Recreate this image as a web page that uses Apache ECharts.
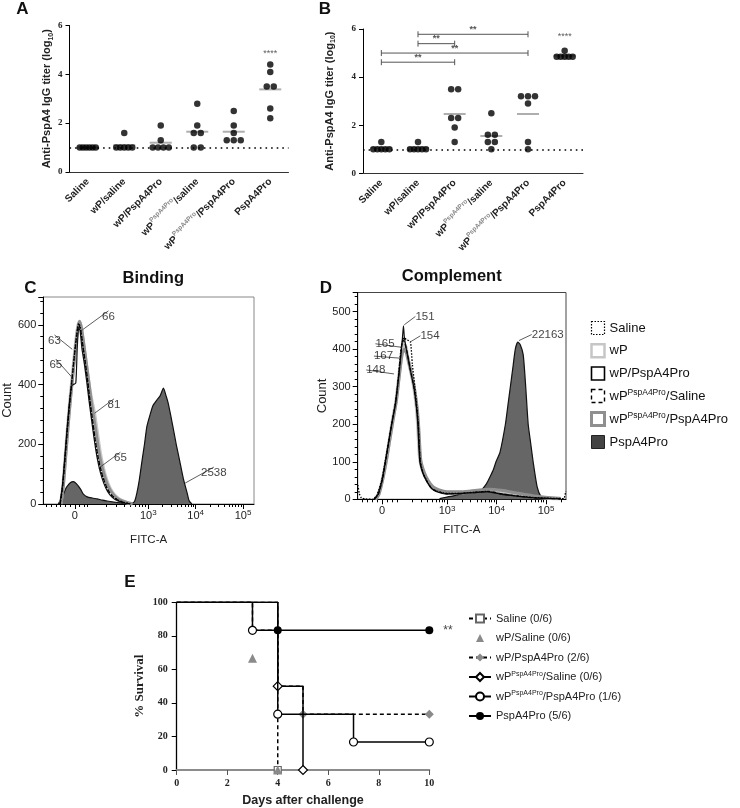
<!DOCTYPE html>
<html>
<head>
<meta charset="utf-8">
<script src="https://cdn.jsdelivr.net/npm/echarts@6.0.0/dist/echarts.min.js"></script>
<style>
  html, body { margin: 0; padding: 0; background: #fff; }
  #main { width: 740px; height: 808px; }
</style>
</head>
<body>
<div id="main"></div>
<script>
// ---- A / B: anti-PspA4 IgG titers (log10), one value per mouse
var groups = ['Saline', 'wP/saline', 'wP/PspA4Pro', 'wP^PspA4Pro/saline', 'wP^PspA4Pro/PspA4Pro', 'PspA4Pro'];
var titersA = [
    [1, 1, 1, 1, 1, 1],
    [1.6, 1, 1, 1, 1, 1],
    [1.9, 1.3, 1, 1, 1, 1],
    [2.8, 1.9, 1.6, 1.6, 1, 1],
    [2.5, 1.9, 1.6, 1.3, 1.3, 1.3],
    [4.4, 4.1, 3.5, 3.5, 2.6, 2.2]
];
var titersB = [
    [1.3, 1, 1, 1, 1, 1],
    [1.3, 1, 1, 1, 1, 1],
    [3.5, 3.5, 2.3, 2.3, 1.9, 1.3],
    [2.5, 1.6, 1.6, 1.3, 1.3, 1],
    [3.2, 3.2, 3.2, 2.9, 1.3, 1],
    [5.1, 4.85, 4.85, 4.85, 4.85, 4.85]
];
var detectionLimit = 1;
var starsA = [[5, 4.87, '****']];
var starsB = [[5, 5.68, '****']];
// from group, to group, bracket height, label
var bracketsB = [[1, 4, 5.78, '**'], [1, 2, 5.39, '**'], [0, 4, 5.0, '**'], [0, 2, 4.62, '**']];

// ---- C / D: FITC-A histograms as [position on biexponential axis (decades), count]
var flowGroups = ['Saline', 'wP', 'wP/PspA4Pro', 'wP^PspA4Pro/Saline', 'wP^PspA4Pro/PspA4Pro', 'PspA4Pro'];
var bindSaline = [[1.14,0],[1.19,60],[1.24,150],[1.29,250],[1.34,340],[1.39,420],[1.44,500],[1.49,570],[1.53,605],[1.56,595],[1.61,540],[1.66,480],[1.71,420],[1.76,350],[1.81,290],[1.87,220],[1.93,160],[2.0,110],[2.07,75],[2.15,45],[2.25,25],[2.38,12],[2.5,5],[2.62,0]];
var bindWP = [[1.15,0],[1.2,60],[1.25,160],[1.3,260],[1.35,350],[1.4,430],[1.45,510],[1.5,580],[1.54,610],[1.58,590],[1.63,535],[1.68,478],[1.73,420],[1.79,360],[1.86,305],[1.92,240],[1.98,175],[2.05,120],[2.12,80],[2.2,50],[2.3,28],[2.42,13],[2.54,5],[2.66,0]];
var bindWPPro = [[1.13,0],[1.18,50],[1.23,140],[1.28,240],[1.33,330],[1.38,395],[1.42,400],[1.47,405],[1.5,520],[1.53,590],[1.56,580],[1.6,520],[1.65,470],[1.7,410],[1.75,345],[1.8,285],[1.86,215],[1.92,155],[1.99,105],[2.06,70],[2.14,42],[2.24,22],[2.36,10],[2.48,4],[2.6,0]];
var bindWPsSaline = [[1.14,0],[1.19,55],[1.24,145],[1.29,245],[1.34,335],[1.39,415],[1.44,495],[1.49,565],[1.53,600],[1.57,585],[1.62,530],[1.67,475],[1.72,415],[1.77,345],[1.82,285],[1.88,215],[1.94,158],[2.01,108],[2.08,73],[2.16,44],[2.26,24],[2.38,11],[2.5,4],[2.62,0]];
var bindWPsPro = [[1.16,0],[1.21,65],[1.26,165],[1.31,265],[1.36,355],[1.41,435],[1.46,515],[1.51,585],[1.55,612],[1.59,590],[1.64,535],[1.69,475],[1.74,415],[1.8,340],[1.86,280],[1.92,215],[1.98,155],[2.05,108],[2.12,72],[2.2,45],[2.3,25],[2.42,12],[2.55,5],[2.67,0]];
var bindPro = [[1.1,0],[1.19,25],[1.27,55],[1.36,72],[1.42,75],[1.48,68],[1.57,50],[1.63,33],[1.71,24],[1.82,20],[1.92,17],[2.03,13],[2.13,10],[2.24,7],[2.34,5],[2.45,3],[2.58,2],[2.66,3],[2.71,8],[2.76,37],[2.81,80],[2.87,147],[2.92,200],[2.97,259],[3.04,300],[3.1,330],[3.18,348],[3.25,362],[3.32,388],[3.38,360],[3.42,338],[3.47,300],[3.52,259],[3.59,200],[3.66,147],[3.74,85],[3.82,37],[3.86,12],[3.92,0]];

var compSaline = [[1.2,38],[1.23,15],[1.27,4],[1.35,1],[1.5,0],[1.58,10],[1.68,50],[1.75,100],[1.88,200],[1.95,250],[2.0,300],[2.04,360],[2.08,410],[2.13,430],[2.19,425],[2.26,420],[2.3,360],[2.35,300],[2.39,250],[2.42,200],[2.46,100],[2.52,70],[2.59,50],[2.68,30],[2.79,22],[3.0,16],[3.26,16],[3.57,19],[3.81,21],[4.07,15],[4.37,10],[4.74,5],[5.08,3],[5.3,2],[5.36,2],[5.4,22]];
var compWP = [[1.55,0],[1.62,15],[1.7,55],[1.78,110],[1.9,210],[1.97,260],[2.01,305],[2.05,350],[2.09,395],[2.13,415],[2.17,405],[2.2,380],[2.27,340],[2.33,300],[2.38,250],[2.41,200],[2.45,110],[2.52,72],[2.6,50],[2.7,32],[2.82,24],[3.0,18],[3.3,18],[3.6,22],[3.85,24],[4.1,20],[4.4,13],[4.75,7],[5.1,3],[5.3,2]];
var compWPPro = [[1.52,0],[1.6,12],[1.69,52],[1.76,105],[1.89,205],[1.96,255],[2.0,300],[2.04,345],[2.08,400],[2.1,430],[2.12,462],[2.14,430],[2.18,400],[2.25,350],[2.33,300],[2.38,250],[2.41,200],[2.45,100],[2.51,70],[2.59,48],[2.68,30],[2.79,20],[3.0,14],[3.26,15],[3.57,18],[3.81,20],[4.07,14],[4.37,9],[4.74,4],[5.1,2],[5.3,1]];
var compWPsSaline = [[1.53,0],[1.61,12],[1.7,55],[1.77,108],[1.89,205],[1.96,255],[2.0,300],[2.04,350],[2.08,405],[2.11,425],[2.15,415],[2.19,395],[2.26,345],[2.33,300],[2.38,250],[2.42,200],[2.46,100],[2.52,68],[2.6,46],[2.69,29],[2.8,21],[3.0,15],[3.3,16],[3.6,19],[3.85,21],[4.1,15],[4.4,9],[4.75,4],[5.1,2],[5.3,1]];
var compWPsPro = [[1.56,0],[1.63,15],[1.71,58],[1.79,115],[1.91,210],[1.98,265],[2.02,310],[2.06,355],[2.1,390],[2.14,400],[2.18,390],[2.22,370],[2.29,330],[2.35,290],[2.4,240],[2.43,190],[2.47,105],[2.54,72],[2.62,50],[2.72,33],[2.84,25],[3.0,20],[3.3,20],[3.6,24],[3.85,27],[4.1,24],[4.4,17],[4.75,9],[5.1,4],[5.3,2]];
var compPro = [[2.85,2],[3.0,6],[3.15,10],[3.3,15],[3.42,20],[3.55,18],[3.67,22],[3.8,42],[3.87,60],[3.94,80],[3.99,100],[4.07,125],[4.18,200],[4.23,250],[4.28,300],[4.33,350],[4.38,400],[4.43,419],[4.48,412],[4.54,385],[4.59,300],[4.64,200],[4.69,150],[4.74,100],[4.82,34],[4.9,7],[5.0,0]];

// median fluorescence notes: [position, count, text, label dx, label dy]
var bindNotes = [[1.61, 583, '66', 26, -13], [1.394, 518, '63', -17.7, -8.3], [1.379, 426, '65', -15.7, -11.7], [1.869, 304, '81', 19.2, -8.3], [1.954, 120, '65', 21.7, -10], [3.779, 70, '2538', 28.7, -10]];
var compNotes = [[2.137, 465, '151', 20.7, -8.3], [2.267, 420, '154', 19.3, -5.9], [2.085, 405, '165', -16.7, -3.5], [2.051, 376, '167', -16.5, -2.1], [1.929, 334, '148', -18.2, -4], [4.455, 423, '22163', 28.7, -6]];
var bindTickPos = [1.45, 3, 4, 5];
var compTickPos = [1.69, 3, 4, 5];
var fitcTickLabels = ['0', '10{sup|3}', '10{sup|4}', '10{sup|5}'];

// ---- E: survival after challenge
var survGroups = ['Saline (0/6)', 'wP/Saline (0/6)', 'wP/PspA4Pro (2/6)', 'wP^PspA4Pro/Saline (0/6)', 'wP^PspA4Pro/PspA4Pro (1/6)', 'PspA4Pro (5/6)'];
var survSaline = [[0, 100], [4, 0]];
var survWPSaline = [[0, 100], [3, 66.7], [4, 0]];
var survWPPro = [[0, 100], [3, 83.3], [4, 50], [5, 33.3], [10, 33.3]];
var survWPsSaline = [[0, 100], [4, 50], [5, 0]];
var survWPsPro = [[0, 100], [3, 83.3], [4, 33.3], [7, 16.7], [10, 16.7]];
var survPro = [[0, 100], [4, 83.3], [10, 83.3]];
var survSig = ['', '', '', '', '', '**'];

var SANS = 'Liberation Sans', SERIF = 'Liberation Serif';
var chart = echarts.init(document.getElementById('main'));

function sup(s) { return s.replace(/\^([^\/]+)/, '{sup|$1}'); }

// spread equal values side by side, like a dot plot
function swarm(vals) {
    var out = [];
    vals.forEach(function (row, g) {
        var count = {}, seen = {};
        row.forEach(function (v) { count[v] = (count[v] || 0) + 1; });
        row.forEach(function (v) {
            var n = count[v];
            var k = seen[v] = seen[v] === undefined ? 0 : seen[v] + 1;
            var step = n <= 3 ? 7 : 16 / (n - 1);
            out.push({ value: [g, v], symbolOffset: [(k - (n - 1) / 2) * step, 0] });
        });
    });
    return out;
}
function means(vals) {
    return vals.map(function (row, g) {
        return [g, row.reduce(function (a, b) { return a + b; }, 0) / row.length];
    });
}

function dotX(grid) {
    return {
        type: 'category', gridIndex: grid, data: groups,
        axisLine: { lineStyle: { color: '#333' } },
        axisTick: { alignWithLabel: true, length: 4, lineStyle: { color: '#333' } },
        axisLabel: {
            interval: 0, rotate: 45, margin: 8, fontFamily: SANS, fontWeight: 'bold', fontSize: 10, color: '#222', lineHeight: 15,
            formatter: sup,
            rich: { sup: { fontFamily: SANS, fontSize: 6.5, color: '#888', verticalAlign: 'top', lineHeight: 7 } }
        }
    };
}
function dotY(grid, gap) {
    return {
        type: 'value', gridIndex: grid, min: 0, max: 6, interval: 2,
        name: 'Anti-PspA4 IgG titer (log{sub|10})', nameLocation: 'middle', nameRotate: 90, nameGap: gap,
        nameTextStyle: {
            fontFamily: SANS, fontWeight: 'bold', fontSize: 11, color: '#222', lineHeight: 14,
            rich: { sub: { fontFamily: SANS, fontWeight: 'bold', fontSize: 7, verticalAlign: 'bottom', lineHeight: 8, color: '#222' } }
        },
        axisLine: { show: true, lineStyle: { color: '#000' } },
        axisTick: { show: true, length: 4, lineStyle: { color: '#000' } },
        axisLabel: { fontFamily: SERIF, fontWeight: 'bold', fontSize: 9, color: '#222', margin: 7 },
        splitLine: { show: false }
    };
}
function dotPanel(idx, vals, stars) {
    return [
        {
            type: 'scatter', xAxisIndex: idx, yAxisIndex: idx, data: means(vals), symbol: 'rect', symbolSize: [22, 2],
            itemStyle: { color: '#9a9a9a' }, z: 2, silent: true
        },
        {
            type: 'scatter', xAxisIndex: idx, yAxisIndex: idx, data: swarm(vals), symbolSize: 6.5,
            itemStyle: { color: '#000' }, z: 3, silent: true,
            markLine: {
                silent: true, symbol: 'none', label: { show: false },
                lineStyle: { color: '#000', type: [1.6, 4], width: 1.6 },
                data: [{ yAxis: detectionLimit }]
            }
        },
        {
            type: 'scatter', xAxisIndex: idx, yAxisIndex: idx, symbolSize: 0, silent: true,
            data: stars.map(function (s) { return { value: [s[0], s[1]], name: s[2] }; }),
            label: { show: true, position: 'inside', formatter: '{b}', fontFamily: SANS, fontSize: 9, color: '#333' }
        }
    ];
}

function fitcX(grid, min, max, ticks, gap) {
    return {
        type: 'value', gridIndex: grid, min: min, max: max, position: 'bottom',
        name: 'FITC-A', nameLocation: 'middle', nameGap: gap,
        nameTextStyle: { fontFamily: SANS, fontSize: 11.5, color: '#222' },
        axisLine: { show: true, onZero: false, lineStyle: { color: '#000' } },
        axisTick: { show: true, customValues: ticks, length: 5, lineStyle: { color: '#000' } },
        axisLabel: {
            customValues: ticks, margin: 5, fontFamily: SANS, fontSize: 11, color: '#222', lineHeight: 14,
            formatter: function (v) { return fitcTickLabels[ticks.indexOf(v)]; },
            rich: { sup: { fontFamily: SANS, fontSize: 8, color: '#222', verticalAlign: 'top', lineHeight: 8 } }
        },
        splitLine: { show: false }
    };
}
function fitcMinor(grid, min, max, zero, hundred) {
    var t = [];
    for (var k = 1; k <= 6; k++) t.push(zero - k * 0.1);
    t.push(zero + 0.1, zero + 0.2, hundred);
    for (var m = 2; m <= 9; m++) {
        t.push(hundred + (3 - hundred) * Math.log10(m), 3 + Math.log10(m), 4 + Math.log10(m), 5 + Math.log10(m));
    }
    t = t.filter(function (v) { return v > min && v < max; });
    return {
        type: 'value', gridIndex: grid, min: min, max: max, position: 'bottom', offset: 0,
        axisLine: { show: false }, axisLabel: { show: false }, splitLine: { show: false },
        axisTick: { show: true, customValues: t, length: 3, lineStyle: { color: '#000' } }
    };
}
function countY(grid, max, step, gap) {
    return {
        type: 'value', gridIndex: grid, min: 0, max: max, interval: step,
        name: 'Count', nameLocation: 'middle', nameRotate: 90, nameGap: gap,
        nameTextStyle: { fontFamily: SANS, fontSize: 13, color: '#222' },
        axisLine: { show: true, lineStyle: { color: '#000' } },
        axisTick: { show: true, length: 5, lineStyle: { color: '#000' } },
        minorTick: { show: true, splitNumber: 5, length: 3, lineStyle: { color: '#000' } },
        axisLabel: { fontFamily: SANS, fontSize: 11, color: '#222', margin: 7, showMaxLabel: false },
        splitLine: { show: false }
    };
}

var flowStyle = [
    { color: '#000', width: 1.3, type: [1.5, 1.5] },
    { color: '#c6c6c6', width: 3.5 },
    { color: '#111', width: 1.2 },
    { color: '#000', width: 1.2, type: [4, 2] },
    { color: '#8f8f8f', width: 3 },
    { color: '#111', width: 1.2 }
];
var flowKey = [
    { color: '#fff', borderColor: '#000', borderWidth: 1.2, borderType: [1.5, 1.5] },
    { color: '#fff', borderColor: '#c6c6c6', borderWidth: 2.5 },
    { color: '#fff', borderColor: '#000', borderWidth: 1.6 },
    { color: '#fff', borderColor: '#000', borderWidth: 1.4, borderType: [4, 3] },
    { color: '#fff', borderColor: '#8f8f8f', borderWidth: 3 },
    { color: '#444', borderColor: '#222', borderWidth: 1 }
];
// draw order: filled first, thick gray outlines, then black outlines on top
var drawOrder = [5, 1, 4, 2, 3, 0];

function flowPanel(xi, yi, curves, notes) {
    var out = drawOrder.map(function (i, n) {
        return {
            type: 'line', name: flowGroups[i], xAxisIndex: xi, yAxisIndex: yi, data: curves[i],
            smooth: 0.2, symbol: 'none', silent: true, z: 2 + n,
            lineStyle: flowStyle[i],
            itemStyle: { color: flowStyle[i].color },
            areaStyle: i === 5 ? { color: '#666', opacity: 1 } : null
        };
    });
    out.push({
        type: 'scatter', xAxisIndex: xi, yAxisIndex: yi, symbolSize: 0, silent: true, z: 20,
        data: notes.map(function (a) { return { value: [a[0], a[1]], name: a[2] }; }),
        label: { show: true, position: 'inside', formatter: '{b}', fontFamily: SANS, fontSize: 11.5, color: '#111' },
        labelLine: { show: true, lineStyle: { color: '#333', width: 0.8 } },
        labelLayout: function (p) { var a = notes[p.dataIndex]; return { dx: a[3], dy: a[4] }; }
    });
    return out;
}

var survData = [survSaline, survWPSaline, survWPPro, survWPsSaline, survWPsPro, survPro];
var survStyle = [
    { line: { color: '#000', width: 1.5, type: [4, 3] }, symbol: 'rect', size: 7, item: { color: '#fff', borderColor: '#666', borderWidth: 1.2 } },
    { line: { color: '#888', width: 0, opacity: 0 }, symbol: 'triangle', size: 9, item: { color: '#8a8a8a' } },
    { line: { color: '#000', width: 1.5, type: [4, 3] }, symbol: 'diamond', size: 9, item: { color: '#8a8a8a' } },
    { line: { color: '#000', width: 1.5 }, symbol: 'diamond', size: 9, item: { color: '#fff', borderColor: '#000', borderWidth: 1.2 } },
    { line: { color: '#000', width: 1.5 }, symbol: 'circle', size: 8, item: { color: '#fff', borderColor: '#000', borderWidth: 1.2 } },
    { line: { color: '#000', width: 1.5 }, symbol: 'circle', size: 8, item: { color: '#000' } }
];
var survSeries = survData.map(function (d, i) {
    var st = survStyle[i];
    return {
        type: 'line', name: survGroups[i], xAxisIndex: 6, yAxisIndex: 4, step: 'end', showAllSymbol: true,
        symbol: st.symbol, symbolSize: st.size, itemStyle: st.item, lineStyle: st.line, z: 3 + i, silent: true,
        data: d.map(function (p, j) {
            var item = { value: p };
            if (j === 0) item.symbol = 'none';
            if (j === d.length - 1 && survSig[i]) {
                item.label = { show: true, formatter: survSig[i], position: 'right', distance: 10, fontFamily: SANS, fontSize: 12, color: '#444' };
            }
            return item;
        })
    };
});

function txt(t, x, y, size) {
    return { type: 'text', x: x, y: y, silent: true, style: { text: t, fill: '#111', font: 'bold ' + size + 'px ' + SANS, align: 'center', verticalAlign: 'middle' } };
}

var option = {
    animation: false,
    backgroundColor: '#fff',
    grid: [
        { left: 69.5, top: 25.5, width: 219, height: 146.5 },
        { left: 363, top: 29, width: 220, height: 144.3 },
        { left: 42.7, top: 297, width: 211.3, height: 207, show: true, borderColor: '#888', borderWidth: 1 },
        { left: 357.7, top: 292.5, width: 208.3, height: 206.8, show: true, borderColor: '#444', borderWidth: 1 },
        { left: 176.7, top: 602.3, width: 252.6, height: 168 }
    ],
    xAxis: [
        dotX(0),
        dotX(1),
        fitcX(2, 0.783, 5.232, bindTickPos, 30),
        fitcMinor(2, 0.783, 5.232, 1.45, 1.72),
        fitcX(3, 1.196, 5.404, compTickPos, 24.7),
        fitcMinor(3, 1.196, 5.404, 1.69, 2.0),
        {
            type: 'value', gridIndex: 4, min: 0, max: 10, interval: 2,
            name: 'Days after challenge', nameLocation: 'middle', nameGap: 24,
            nameTextStyle: { fontFamily: SANS, fontWeight: 'bold', fontSize: 12.5, color: '#222' },
            axisLine: { lineStyle: { color: '#8c8c8c', width: 2 } },
            axisTick: { length: 5, lineStyle: { color: '#555' } },
            axisLabel: { fontFamily: SERIF, fontWeight: 'bold', fontSize: 10, color: '#222', margin: 8 },
            splitLine: { show: false }
        }
    ],
    yAxis: [
        dotY(0, 15),
        dotY(1, 26.5),
        countY(2, 693, 200, 28),
        countY(3, 551, 100, 25),
        {
            type: 'value', gridIndex: 4, min: 0, max: 100, interval: 20,
            name: '% Survival', nameLocation: 'middle', nameRotate: 90, nameGap: 31,
            nameTextStyle: { fontFamily: SERIF, fontWeight: 'bold', fontSize: 13, color: '#222' },
            axisLine: { show: true, lineStyle: { color: '#000', width: 1.3 } },
            axisTick: { show: true, length: 5, lineStyle: { color: '#000' } },
            axisLabel: { fontFamily: SERIF, fontWeight: 'bold', fontSize: 10, color: '#222', margin: 9 },
            splitLine: { show: false }
        }
    ],
    legend: [
        {
            orient: 'vertical', left: 585, top: 315.5, itemWidth: 13, itemHeight: 13, itemGap: 7.5, selectedMode: false,
            data: flowGroups.map(function (n, i) { return { name: n, icon: 'rect', itemStyle: flowKey[i] }; }),
            formatter: sup,
            textStyle: {
                fontFamily: SANS, fontSize: 13, color: '#111', lineHeight: 15,
                rich: { sup: { fontFamily: SANS, fontSize: 8.5, color: '#111', verticalAlign: 'top', lineHeight: 8 } }
            }
        },
        {
            orient: 'vertical', left: 463, top: 607, itemWidth: 22, itemHeight: 10, itemGap: 6.5, selectedMode: false,
            data: survGroups,
            formatter: sup,
            textStyle: {
                fontFamily: SANS, fontSize: 11, color: '#222', lineHeight: 13,
                rich: { sup: { fontFamily: SANS, fontSize: 7, color: '#222', verticalAlign: 'top', lineHeight: 7 } }
            }
        }
    ],
    graphic: [
        txt('A', 22.5, 9, 17), txt('B', 325, 9, 17), txt('C', 30.5, 288.5, 17), txt('D', 326, 288, 17), txt('E', 130, 582, 17),
        txt('Binding', 153.3, 278, 16.5), txt('Complement', 451.7, 276.7, 16.5)
    ],
    series: [].concat(
        dotPanel(0, titersA, starsA),
        dotPanel(1, titersB, starsB),
        [{
            type: 'custom', xAxisIndex: 1, yAxisIndex: 1, data: bracketsB, silent: true, z: 5,
            encode: { x: [0, 1], y: 2 },
            renderItem: function (params, api) {
                var a = api.coord([api.value(0), api.value(2)]);
                var b = api.coord([api.value(1), api.value(2)]);
                var st = { stroke: '#555', lineWidth: 1 };
                return {
                    type: 'group', children: [
                        { type: 'line', shape: { x1: a[0], y1: a[1], x2: b[0], y2: b[1] }, style: st },
                        { type: 'line', shape: { x1: a[0], y1: a[1] - 3, x2: a[0], y2: a[1] + 3 }, style: st },
                        { type: 'line', shape: { x1: b[0], y1: b[1] - 3, x2: b[0], y2: b[1] + 3 }, style: st },
                        {
                            type: 'text', x: (a[0] + b[0]) / 2, y: a[1] - 0.5,
                            style: { text: bracketsB[params.dataIndex][3], fill: '#555', font: 'bold 9px ' + SANS, align: 'center', verticalAlign: 'bottom' }
                        }
                    ]
                };
            }
        }],
        flowPanel(2, 2, [bindSaline, bindWP, bindWPPro, bindWPsSaline, bindWPsPro, bindPro], bindNotes),
        flowPanel(4, 3, [compSaline, compWP, compWPPro, compWPsSaline, compWPsPro, compPro], compNotes),
        survSeries
    )
};

option && chart.setOption(option);
</script>
</body>
</html>
